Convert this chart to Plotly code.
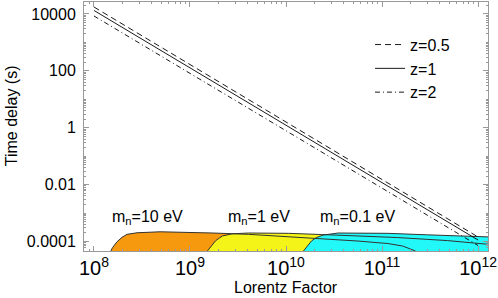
import math
import plotly.graph_objects as go

# Diagonal time-delay lines (Lorentz factor vs time delay)
gamma_line = [1e8, 1e12]
delay_z05 = [1.76e4, 1.44e-4]
delay_z1 = [1.33e4, 1.13e-4]
delay_z2 = [8.53e3, 7.24e-5]

# Neutrino-mass regions (boundary curves)
gamma_m10 = [1.50e8, 1.56e8, 1.74e8, 1.96e8, 2.21e8, 2.81e8, 4.89e8, 8.51e8,
             1.74e9, 4.09e9, 1.06e10, 2.33e10, 5.61e10, 1.15e11, 1.64e11, 2.23e11]
delay_m10 = [4.65e-5, 6.07e-5, 9.84e-5, 1.40e-4, 1.79e-4, 2.03e-4, 2.20e-4, 2.15e-4,
             1.99e-4, 1.79e-4, 1.50e-4, 1.27e-4, 1.04e-4, 8.5e-5, 6.95e-5, 4.65e-5]

gamma_m1 = [1.52e9, 1.65e9, 1.85e9, 2.17e9, 2.75e9, 4.09e9, 1.06e10, 2.33e10,
            5.61e10, 1.46e11, 4.79e11, 1.26e12, 2.0e12]
delay_m1 = [4.65e-5, 6.58e-5, 1.07e-4, 1.56e-4, 1.87e-4, 1.99e-4, 1.94e-4, 1.76e-4,
            1.56e-4, 1.38e-4, 1.08e-4, 8.17e-5, 6.95e-5]

gamma_m01 = [1.52e10, 1.67e10, 1.84e10, 2.07e10, 2.44e10, 3.49e10, 1.15e11, 2.97e11,
             1.26e12, 2.0e12]
delay_m01 = [4.65e-5, 6.95e-5, 1.04e-4, 1.38e-4, 1.69e-4, 1.99e-4, 1.94e-4, 1.72e-4,
             1.47e-4, 1.38e-4]

region_labels = ["m<sub>n</sub>=10 eV", "m<sub>n</sub>=1 eV", "m<sub>n</sub>=0.1 eV"]
region_label_x = [3.61e8, 5.2e9, 5.61e10]
region_label_y = 2.74e-4
region_colors = ["#f7990f", "#f4f418", "#22f8f8"]

y_tickvals = [1e-4, 1e-2, 1, 1e2, 1e4]
y_ticktext = ["0.0001", "0.01", "1", "100", "10000"]

FLOOR = 1e-5
fig = go.Figure()

regions = [(gamma_m10, delay_m10), (gamma_m1, delay_m1), (gamma_m01, delay_m01)]
for (g, d), col in zip(regions, region_colors):
    fig.add_trace(go.Scatter(
        x=list(g) + [g[-1], g[0]], y=list(d) + [FLOOR, FLOOR],
        fill="toself", fillcolor=col, mode="lines", line=dict(width=0),
        showlegend=False, hoverinfo="skip"))
for g, d in regions:
    fig.add_trace(go.Scatter(x=g, y=d, mode="lines", line=dict(color="#333333", width=1),
                             showlegend=False, hoverinfo="skip"))

fig.add_trace(go.Scatter(x=gamma_line, y=delay_z05, mode="lines", name="z=0.5",
                         line=dict(color="black", width=0.9, dash="6px,4px")))
fig.add_trace(go.Scatter(x=gamma_line, y=delay_z1, mode="lines", name="z=1",
                         line=dict(color="black", width=0.9)))
fig.add_trace(go.Scatter(x=gamma_line, y=delay_z2, mode="lines", name="z=2",
                         line=dict(color="black", width=0.9, dash="5px,3px,1px,3px")))

for txt, xv in zip(region_labels, region_label_x):
    fig.add_annotation(x=math.log10(xv), y=math.log10(region_label_y), xref="x", yref="y",
                       text=txt, showarrow=False, xanchor="center", yanchor="bottom",
                       font=dict(size=16, color="black"))

# Axis titles
fig.add_annotation(x=0.5, y=-0.148, xref="paper", yref="paper", text="Lorentz Factor",
                   showarrow=False, xanchor="center", yanchor="middle",
                   font=dict(size=16, color="black"))
fig.add_annotation(x=-0.179, y=0.544, xref="paper", yref="paper", text="Time delay (s)",
                   textangle=-90, showarrow=False, xanchor="center", yanchor="middle",
                   font=dict(size=16, color="black"))

axis_common = dict(showline=True, mirror="allticks", linecolor="#999999", linewidth=1,
                   ticks="inside", ticklen=5, tickcolor="#999999", showgrid=False,
                   zeroline=False, tickfont=dict(size=16, color="black"))

fig.update_xaxes(type="log", range=[7.8966, 12.1034], dtick=1, exponentformat="power",
                 showexponent="all", ticklabeloverflow="allow",
                 minor=dict(ticks="inside", ticklen=2, tickcolor="#999999", dtick="D1"),
                 **axis_common)
fig.update_yaxes(type="log", range=[-4.333, 4.421], tickmode="array",
                 tickvals=y_tickvals, ticktext=y_ticktext, ticklabelstandoff=4,
                 minor=dict(ticks="inside", ticklen=2, tickcolor="#999999", dtick="D1"),
                 **axis_common)

fig.update_layout(
    width=498, height=298,
    margin=dict(l=84, r=7, t=1, b=47),
    paper_bgcolor="white", plot_bgcolor="white",
    font=dict(family="Liberation Sans, Arial, sans-serif", size=16, color="black"),
    legend=dict(x=0.708, y=0.897, xanchor="left", yanchor="top",
                bgcolor="rgba(0,0,0,0)", font=dict(size=16)),
)

fig.write_html("out.html", config={"displayModeBar": False},
               post_script="document.body.style.margin='0';document.body.style.overflow='hidden';")
